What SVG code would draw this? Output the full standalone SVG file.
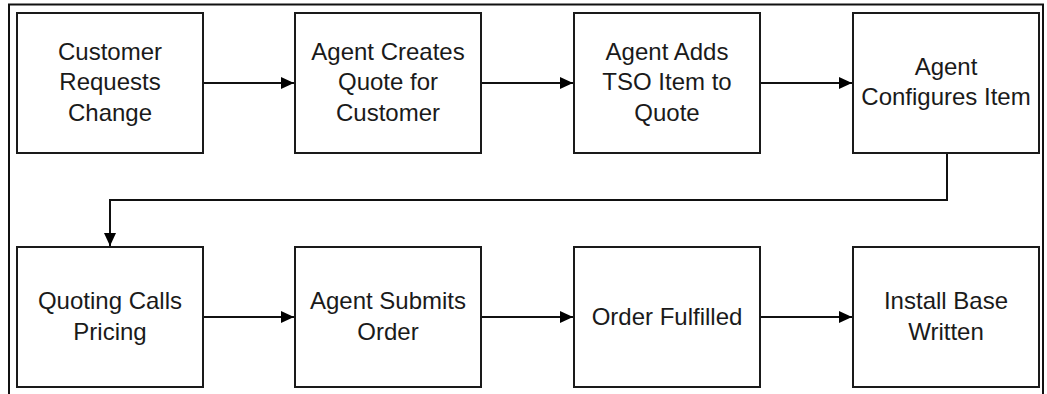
<svg xmlns="http://www.w3.org/2000/svg" width="1047" height="394" viewBox="0 0 1047 394">
<style>
.box{fill:#fff;stroke:#1a1a1a;stroke-width:2}
.lbl{font-family:"Liberation Sans",Arial,sans-serif;font-size:24px;fill:#1a1a1a;text-anchor:middle}
.conn{fill:none;stroke:#111;stroke-width:2}
</style>
<defs>
<marker id="ah" markerUnits="userSpaceOnUse" markerWidth="14" markerHeight="12" refX="13" refY="6" orient="auto">
<path d="M0,0 L13,6 L0,12 Z" fill="#000"/>
</marker>
</defs>
<rect x="0" y="0" width="1047" height="394" fill="#fff"/>
<path d="M9,400 V4.5 H1043 V400" fill="none" stroke="#111" stroke-width="2"/>
<g id="connectors">
<path class="conn" d="M203,83 H294" marker-end="url(#ah)"/>
<path class="conn" d="M482,83 H573" marker-end="url(#ah)"/>
<path class="conn" d="M761,83 H852" marker-end="url(#ah)"/>
<path class="conn" d="M947,153 V200 H110 V246" marker-end="url(#ah)"/>
<path class="conn" d="M203,317 H294" marker-end="url(#ah)"/>
<path class="conn" d="M482,317 H573" marker-end="url(#ah)"/>
<path class="conn" d="M761,317 H852" marker-end="url(#ah)"/>
</g>
<g id="n1"><rect class="box" x="17" y="13" width="186" height="140"/><text class="lbl" x="110" y="60">Customer</text><text class="lbl" x="110" y="90">Requests</text><text class="lbl" x="110" y="121">Change</text></g>
<g id="n2"><rect class="box" x="295" y="13" width="186" height="140"/><text class="lbl" x="388" y="60">Agent Creates</text><text class="lbl" x="388" y="90">Quote for</text><text class="lbl" x="388" y="121">Customer</text></g>
<g id="n3"><rect class="box" x="574" y="13" width="186" height="140"/><text class="lbl" x="667" y="60">Agent Adds</text><text class="lbl" x="667" y="90">TSO Item to</text><text class="lbl" x="667" y="121">Quote</text></g>
<g id="n4"><rect class="box" x="853" y="13" width="186" height="140"/><text class="lbl" x="946" y="75">Agent</text><text class="lbl" x="946" y="105">Configures Item</text></g>
<g id="n5"><rect class="box" x="17" y="247" width="186" height="140"/><text class="lbl" x="110" y="309">Quoting Calls</text><text class="lbl" x="110" y="340">Pricing</text></g>
<g id="n6"><rect class="box" x="295" y="247" width="186" height="140"/><text class="lbl" x="388" y="309">Agent Submits</text><text class="lbl" x="388" y="340">Order</text></g>
<g id="n7"><rect class="box" x="574" y="247" width="186" height="140"/><text class="lbl" x="667" y="325">Order Fulfilled</text></g>
<g id="n8"><rect class="box" x="853" y="247" width="186" height="140"/><text class="lbl" x="946" y="309">Install Base</text><text class="lbl" x="946" y="340">Written</text></g>
</svg>
